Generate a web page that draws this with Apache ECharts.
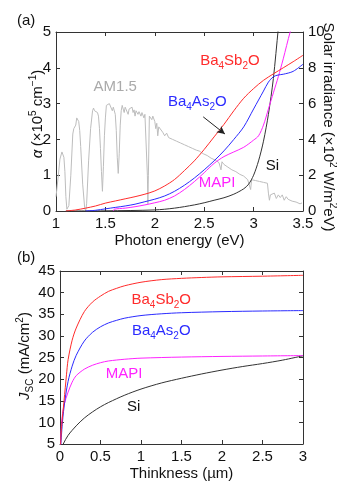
<!DOCTYPE html>
<html lang="en">
<head>
<meta charset="UTF-8">
<title>absorption and Jsc</title>
<script src="https://cdn.jsdelivr.net/npm/echarts@6/dist/echarts.min.js"></script>
<style>
html, body { margin: 0; padding: 0; background: #fff; }
#chart { width: 337px; height: 482px; }
</style>
</head>
<body>
<div id="chart"></div>
<script>
// (a) absorption coefficient, x10^5 cm-1, vs photon energy (eV)
var sbE = [1.1, 1.2, 1.3, 1.4, 1.5, 1.6, 1.7, 1.8, 1.9, 2.0, 2.1, 2.2, 2.3, 2.4, 2.5, 2.6, 2.7, 2.8, 2.9, 3.0, 3.1, 3.2, 3.3, 3.4, 3.5];
var sbA = [0, 0.03, 0.08, 0.14, 0.22, 0.28, 0.34, 0.40, 0.47, 0.56, 0.70, 0.88, 1.13, 1.40, 1.72, 2.07, 2.42, 2.80, 3.15, 3.42, 3.65, 3.83, 4.0, 4.17, 4.35];
var asE = [1.3, 1.4, 1.5, 1.6, 1.7, 1.8, 1.9, 2.0, 2.1, 2.2, 2.3, 2.4, 2.5, 2.6, 2.7, 2.8, 2.9, 3.0, 3.1, 3.15, 3.2, 3.25, 3.3, 3.4, 3.5];
var asA = [0, 0.02, 0.06, 0.10, 0.14, 0.19, 0.26, 0.33, 0.42, 0.55, 0.72, 0.92, 1.15, 1.40, 1.68, 2.0, 2.35, 2.85, 3.35, 3.6, 3.75, 3.80, 3.82, 3.9, 4.1];
var mapiE = [1.58, 1.59, 1.7, 1.8, 1.9, 2.0, 2.1, 2.2, 2.3, 2.4, 2.5, 2.6, 2.7, 2.8, 2.9, 3.0, 3.05, 3.1, 3.15, 3.2, 3.25, 3.3, 3.37, 3.45];
var mapiA = [0, 0.05, 0.08, 0.12, 0.17, 0.23, 0.30, 0.42, 0.60, 0.82, 1.07, 1.33, 1.52, 1.65, 1.78, 1.98, 2.1, 2.4, 2.85, 3.3, 3.75, 4.25, 5.0, 5.7];
var siE = [1.1, 1.5, 2.0, 2.2, 2.4, 2.5, 2.6, 2.7, 2.8, 2.9, 2.95, 3.0, 3.05, 3.1, 3.15, 3.2, 3.25, 3.3];
var siA = [0, 0.005, 0.03, 0.08, 0.17, 0.23, 0.30, 0.37, 0.47, 0.62, 0.75, 1.0, 1.4, 1.95, 2.7, 3.7, 5.1, 6.5];

// AM1.5 solar irradiance, x10^2 W/m2eV
var amE = [1.00, 1.02, 1.04, 1.06, 1.08, 1.09, 1.10, 1.11, 1.12, 1.13, 1.15, 1.17, 1.18, 1.20, 1.21, 1.22, 1.23, 1.24, 1.25, 1.27, 1.29, 1.30, 1.31, 1.33, 1.35, 1.37, 1.38, 1.39, 1.40, 1.42, 1.43, 1.44, 1.45, 1.46, 1.47, 1.48, 1.49, 1.50, 1.51, 1.52, 1.53, 1.54, 1.56, 1.57, 1.58, 1.60, 1.61, 1.62, 1.63, 1.64, 1.65, 1.66, 1.67, 1.68, 1.69, 1.70, 1.72, 1.73, 1.74, 1.76, 1.77, 1.78, 1.79, 1.80, 1.81, 1.83, 1.84, 1.86, 1.87, 1.89, 1.90, 1.915, 1.925, 1.93, 1.935, 1.945, 1.96, 1.97, 1.98, 2.00, 2.01, 2.02, 2.03, 2.04, 2.06, 2.08, 2.09, 2.10, 2.12, 2.14, 2.16, 2.18, 2.20, 2.22, 2.24, 2.26, 2.28, 2.30, 2.32, 2.34, 2.36, 2.38, 2.40, 2.42, 2.43, 2.45, 2.47, 2.49, 2.51, 2.53, 2.55, 2.57, 2.59, 2.61, 2.63, 2.65, 2.66, 2.67, 2.68, 2.70, 2.72, 2.74, 2.76, 2.78, 2.80, 2.82, 2.84, 2.86, 2.88, 2.90, 2.92, 2.94, 2.96, 2.97, 2.98, 3.00, 3.02, 3.04, 3.06, 3.08, 3.10, 3.12, 3.14, 3.15, 3.16, 3.17, 3.19, 3.21, 3.23, 3.25, 3.27, 3.29, 3.31, 3.33, 3.35, 3.37, 3.39, 3.41, 3.43, 3.45, 3.47, 3.49];
var amI = [0.8, 1.8, 2.9, 3.3, 3.0, 2.2, 0.8, 0.1, 0.0, 0.3, 2.0, 4.3, 4.6, 4.8, 5.2, 5.3, 5.0, 4.5, 3.6, 1.5, 0.2, 0.0, 0.4, 2.8, 4.6, 5.6, 5.75, 5.6, 5.7, 5.5, 5.3, 4.6, 3.5, 2.2, 1.1, 2.5, 4.2, 5.2, 5.9, 6.0, 5.8, 6.0, 5.9, 5.6, 5.8, 5.4, 4.5, 3.0, 2.1, 3.2, 4.8, 5.6, 5.9, 5.85, 5.5, 5.8, 5.75, 5.4, 5.7, 5.6, 5.8, 5.5, 5.65, 5.3, 5.6, 5.4, 5.55, 5.3, 5.5, 5.2, 5.4, 5.3, 2.0, 0.4, 2.0, 5.3, 5.4, 5.1, 5.3, 5.0, 4.6, 4.9, 4.2, 4.7, 4.6, 4.4, 4.5, 4.2, 4.35, 4.1, 4.2, 4.0, 4.1, 3.9, 4.0, 3.8, 3.85, 3.7, 3.75, 3.6, 3.65, 3.5, 3.55, 3.4, 3.5, 3.35, 3.4, 3.2, 3.3, 3.1, 3.15, 2.95, 3.0, 2.85, 2.9, 2.7, 2.8, 2.3, 2.75, 2.6, 2.65, 2.45, 2.5, 2.3, 2.35, 2.2, 2.25, 2.05, 2.1, 1.95, 1.95, 1.75, 1.7, 1.2, 1.75, 1.65, 1.7, 1.6, 1.65, 1.55, 1.6, 1.5, 1.55, 1.0, 0.6, 0.9, 0.8, 1.0, 0.7, 0.9, 0.75, 0.9, 0.6, 0.8, 0.65, 0.75, 0.55, 0.65, 0.5, 0.6, 0.4, 0.45];

// (b) Jsc (mA/cm2) vs thickness (um)
var sbT = [0, 0.02, 0.05, 0.08, 0.1, 0.15, 0.2, 0.3, 0.4, 0.5, 0.6, 0.7, 0.8, 1.0, 1.25, 1.5, 1.75, 2.0, 2.5, 3.0];
var sbJ = [2, 9, 15, 21, 24.5, 29, 31.8, 35.6, 37.8, 39.2, 40.3, 41.0, 41.6, 42.4, 43.0, 43.3, 43.5, 43.65, 43.8, 44.0];
var asT = [0, 0.03, 0.06, 0.1, 0.15, 0.2, 0.3, 0.4, 0.5, 0.6, 0.7, 0.8, 1.0, 1.25, 1.5, 2.0, 2.5, 3.0];
var asJ = [2, 10, 15, 19.5, 23, 25.5, 28.8, 30.8, 32.1, 33.0, 33.6, 34.1, 34.7, 35.1, 35.35, 35.6, 35.75, 35.85];
var mapiT = [0, 0.02, 0.05, 0.1, 0.15, 0.2, 0.3, 0.4, 0.5, 0.6, 0.8, 1.0, 1.5, 2.0, 2.5, 3.0];
var mapiJ = [2, 10, 14, 17, 19.3, 20.8, 22.3, 23.2, 23.8, 24.2, 24.6, 24.85, 25.1, 25.25, 25.35, 25.45];
var siT = [0.02, 0.04, 0.1, 0.2, 0.3, 0.4, 0.5, 0.6, 0.8, 1.0, 1.25, 1.5, 1.75, 2.0, 2.25, 2.5, 2.75, 3.0];
var siJ = [4, 5, 7, 9.2, 11, 12.4, 13.6, 14.6, 16.3, 17.7, 19.1, 20.2, 21.2, 22.1, 22.9, 23.6, 24.4, 25.4];

var RED = '#ff2b2b', BLUE = '#2b2bff', MAG = '#ff22ff', BLK = '#333333', GRAY = '#bdbdbd';
var FONT = '"Liberation Sans", Arial, sans-serif';

function pairs(xs, ys) {
	var out = [];
	for(var i = 0; i < xs.length; i++) out.push([xs[i], ys[i]]);
	return out;
}

var rich = {
	n: { fontSize: 15, lineHeight: 20, fontFamily: FONT, fill: '#111' },
	it: { fontSize: 15, lineHeight: 20, fontFamily: FONT, fontStyle: 'italic', fill: '#111' },
	sub: { fontSize: 10, lineHeight: 11, fontFamily: FONT, verticalAlign: 'bottom', fill: '#111' },
	sup: { fontSize: 10, lineHeight: 11, fontFamily: FONT, verticalAlign: 'top', fill: '#111' }
};

function tag(x, y, text, color) {
	return {
		coord: [x, y],
		symbol: 'rect',
		symbolSize: 1,
		itemStyle: { color: 'transparent' },
		label: {
			show: true, position: 'inside', color: color,
			formatter: text,
			rich: {
				n: { fontSize: 15, lineHeight: 20, fontFamily: FONT, color: color },
				sub: { fontSize: 10, lineHeight: 11, fontFamily: FONT, color: color, verticalAlign: 'bottom' }
			}
		}
	};
}

// vertical axis titles
function vtitle(x, y, text, rot) {
	return {
		type: 'text', x: x, y: y, rotation: rot,
		style: { text: text, rich: rich, align: 'center', verticalAlign: 'middle', fontFamily: FONT }
	};
}

var SB = '{n|Ba}{sub|4}{n|Sb}{sub|2}{n|O}';
var AS = '{n|Ba}{sub|4}{n|As}{sub|2}{n|O}';

function xAx(grid, min, max, step, show, name) {
	return {
		type: 'value', gridIndex: grid, min: min, max: max, interval: step,
		position: show ? 'bottom' : 'top',
		name: show ? name : '', nameLocation: 'middle', nameGap: 22, nameMoveOverlap: false,
		nameTextStyle: { fontSize: 15, color: '#111', fontFamily: FONT },
		axisLine: { show: true, onZero: false, lineStyle: { color: BLK, width: 1 } },
		axisTick: { show: true, inside: true, length: 4, lineStyle: { color: BLK } },
		axisLabel: { show: show, fontSize: 15, color: '#111', margin: 5, fontFamily: FONT },
		splitLine: { show: false }
	};
}

function yAx(grid, min, max, step, pos, showLabel) {
	return {
		type: 'value', gridIndex: grid, min: min, max: max, interval: step,
		position: pos,
		axisLine: { show: true, onZero: false, lineStyle: { color: BLK, width: 1 } },
		axisTick: { show: true, inside: true, length: 4, lineStyle: { color: BLK } },
		axisLabel: { show: showLabel, fontSize: 15, color: '#111', margin: 5, fontFamily: FONT },
		splitLine: { show: false }
	};
}

function line(xi, yi, data, color, extra) {
	var s = {
		type: 'line', xAxisIndex: xi, yAxisIndex: yi, data: data,
		showSymbol: false, smooth: 0.3, clip: true, silent: true,
		lineStyle: { color: color, width: 1 }
	};
	for(var k in extra) s[k] = extra[k];
	return s;
}

var myChart = echarts.init(document.getElementById('chart'), null, { renderer: 'canvas' });

var option = {
	animation: false,
	textStyle: { fontFamily: FONT },
	grid: [
		{ left: 56, top: 32, width: 247, height: 179 },
		{ left: 60, top: 271, width: 243, height: 177 }
	],
	xAxis: [
		xAx(0, 1, 3.5, 0.5, true, 'Photon energy (eV)'),
		xAx(0, 1, 3.5, 0.5, false),
		xAx(1, 0, 3, 0.5, true, 'Thinkness (\u00b5m)'),
		xAx(1, 0, 3, 0.5, false)
	],
	yAxis: [
		yAx(0, 0, 5, 1, 'left', true),
		yAx(0, 0, 10, 2, 'right', true),
		yAx(1, 5, 45, 5, 'left', true),
		yAx(1, 5, 45, 5, 'right', false)
	],
	graphic: [
		{ type: 'text', left: 17, top: 13, style: { text: '(a)', fontSize: 15, fill: '#111', fontFamily: FONT } },
		{ type: 'text', left: 17, top: 250, style: { text: '(b)', fontSize: 15, fill: '#111', fontFamily: FONT } },
		vtitle(38, 114, '{it|\u03b1} {n|(\u00d710}{sup|5}{n| cm}{sup|\u22121}{n|)}', Math.PI / 2),
		vtitle(328, 127, '{n|Solar irradiance (\u00d710}{sup|2}{n| W/m}{sup|2}{n|eV)}', -Math.PI / 2),
		vtitle(25, 356, '{it|J}{sub|SC}{n| (mA/cm}{sup|2}{n|)}', Math.PI / 2)
	],
	series: [
		line(0, 1, pairs(amE, amI), GRAY, {
			smooth: false,
			markPoint: { silent: true, data: [tag(1.60, 6.93, '{n|AM1.5}', '#aaaaaa')] }
		}),
		line(0, 0, pairs(siE, siA), BLK, {
			markPoint: { silent: true, data: [tag(3.19, 1.26, '{n|Si}', '#111')] }
		}),
		line(0, 0, pairs(mapiE, mapiA), MAG, {
			markPoint: { silent: true, data: [tag(2.63, 0.78, '{n|MAPI}', MAG)] }
		}),
		line(0, 0, pairs(asE, asA), BLUE, {
			markPoint: { silent: true, data: [tag(2.43, 3.04, AS, BLUE)] },
			markLine: {
				silent: true, symbol: ['none', 'arrow'], symbolSize: [6, 8],
				label: { show: false },
				lineStyle: { color: '#222', width: 1, type: 'solid' },
				data: [[{ coord: [2.49, 2.63] }, { coord: [2.71, 2.15] }]]
			}
		}),
		line(0, 0, pairs(sbE, sbA), RED, {
			markPoint: { silent: true, data: [tag(2.76, 4.19, SB, RED)] }
		}),
		line(2, 2, pairs(siT, siJ), BLK, {
			markPoint: { silent: true, data: [tag(0.91, 13.7, '{n|Si}', '#111')] }
		}),
		line(2, 2, pairs(mapiT, mapiJ), MAG, {
			markPoint: { silent: true, data: [tag(0.79, 21.2, '{n|MAPI}', MAG)] }
		}),
		line(2, 2, pairs(asT, asJ), BLUE, {
			markPoint: { silent: true, data: [tag(1.25, 31.1, AS, BLUE)] }
		}),
		line(2, 2, pairs(sbT, sbJ), RED, {
			markPoint: { silent: true, data: [tag(1.25, 38.3, SB, RED)] }
		})
	]
};

myChart.setOption(option);
</script>
</body>
</html>
